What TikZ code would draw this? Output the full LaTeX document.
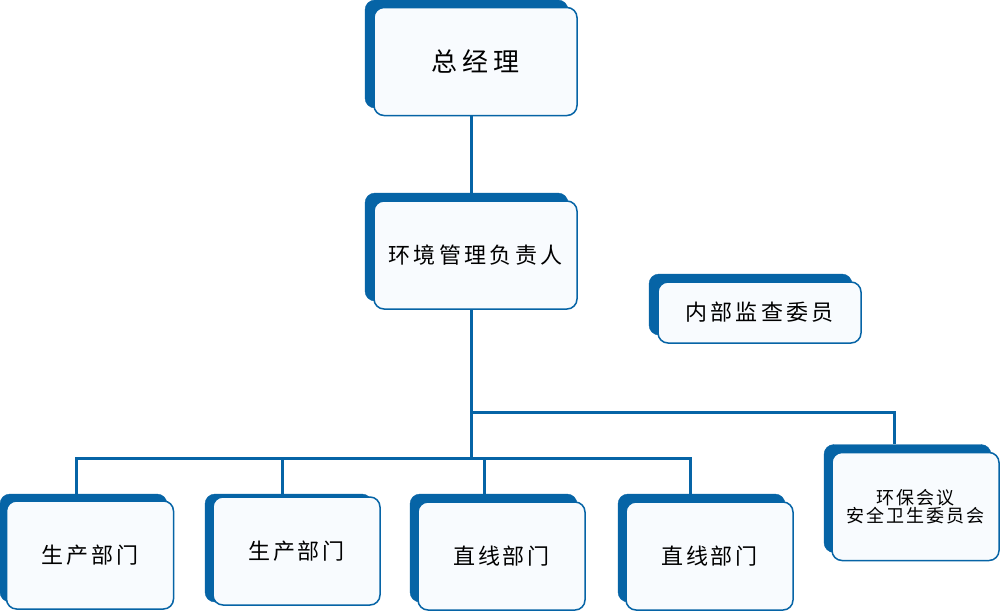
\documentclass[tikz,border=0pt]{standalone}
\usepackage{fontspec}
\newfontfamily\cjk{Noto Sans CJK SC}
\definecolor{dblue}{RGB}{6,100,166}
\definecolor{lfill}{RGB}{248,251,254}
\makeatletter
\newcommand\lsp[2]{\def\lsp@k{#1}\lsp@aux#2\relax}
\def\lsp@aux#1{\ifx#1\relax\unkern\else#1\kern\lsp@k\expandafter\lsp@aux\fi}
\makeatother
\tikzset{
  back/.style={fill=dblue, draw=dblue, rounded corners=10pt, inner sep=0pt},
  front/.style={fill=lfill, draw=dblue, line width=1.5pt, rounded corners=10pt, inner sep=0pt, font=\cjk},
  link/.style={draw=dblue, line width=3pt},
  big/.style={minimum width=203pt, minimum height=108pt},
  small/.style={minimum width=167pt, minimum height=108pt},
}
\begin{document}
\begin{tikzpicture}[x=1pt,y=-1pt]
\useasboundingbox[fill=white] (0,0) rectangle (1000,611);
% top
\node[back,big] (gmb) at (466.5,54) {};
\node[front,big] (gm) at (475.5,61.5) {\fontsize{26}{30}\selectfont\lsp{5pt}{总经理}};
\node[back,big] (envb) at (466.5,247) {};
\node[front,big] (env) at (475.5,255) {\fontsize{22}{26}\selectfont\lsp{3.4pt}{环境管理负责人}};
\node[back,minimum width=203pt,minimum height=61pt] (audb) at (750.5,304.5) {};
\node[front,minimum width=203pt,minimum height=61pt] (aud) at (759.5,312.5) {\fontsize{22}{26}\selectfont\lsp{3.4pt}{内部监查委员}};
\node[back,small] (commb) at (907.5,498.5) {};
\node[front,small,align=center] (comm) at (915.5,506.5) {\fontsize{18}{21}\selectfont\lsp{1.9pt}{环保会议}\\\fontsize{18}{21}\selectfont\lsp{1.9pt}{安全卫生委员会}};
% bottom
\node[back,small] (p1b) at (83.5,548) {};
\node[front,small] (p1) at (90,555) {\fontsize{22}{26}\selectfont\lsp{2.8pt}{生产部门}};
\node[back,small] (p2b) at (288.5,548) {};
\node[front,small] (p2) at (296.5,551) {\fontsize{22}{26}\selectfont\lsp{2.8pt}{生产部门}};
\node[back,small] (l1b) at (493.5,548) {};
\node[front,small] (l1) at (501.5,556) {\fontsize{22}{26}\selectfont\lsp{2.8pt}{直线部门}};
\node[back,small] (l2b) at (701.5,548) {};
\node[front,small] (l2) at (709.5,556) {\fontsize{22}{26}\selectfont\lsp{2.8pt}{直线部门}};
% connectors
\coordinate (sx) at (471,0);
\coordinate (br) at (471,412);
\coordinate (bc) at (894,412);
\coordinate (bus) at (471,458);
\coordinate (d1) at (76,458);
\coordinate (d2) at (282,458);
\coordinate (d3) at (484,458);
\coordinate (d4) at (690,458);
\draw[link] (gm.south -| sx) -- (envb.north -| sx);
\draw[link] (env.south -| sx) -- (bus);
\draw[link] (br) -- (bc) -- (bc |- commb.north);
\draw[link] (d1 |- p1b.north) -- (d1) -- (d4) -- (d4 |- l2b.north);
\draw[link] (d2) -- (d2 |- p2b.north);
\draw[link] (d3) -- (d3 |- l1b.north);
\end{tikzpicture}
\end{document}
